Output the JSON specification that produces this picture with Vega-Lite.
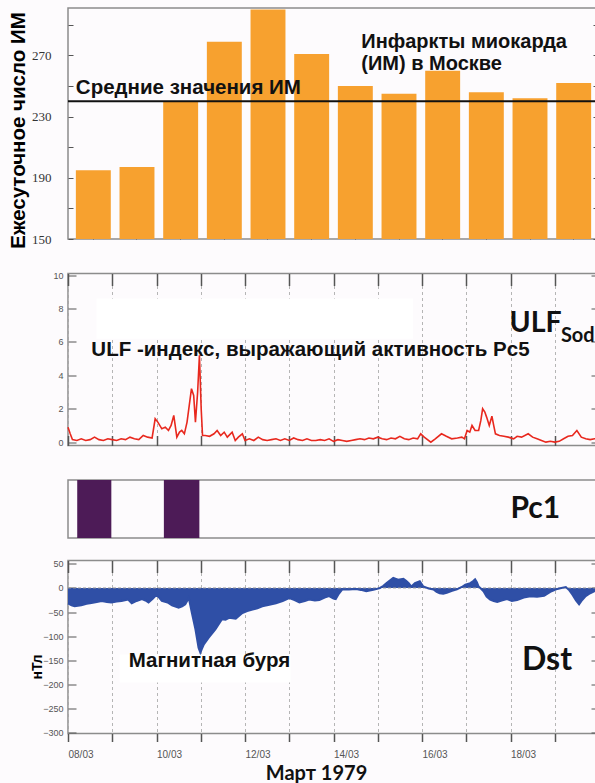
{
  "$schema": "https://vega.github.io/schema/vega-lite/v6.json",
  "background": "#fdfbfd",
  "padding": {"left": 7, "top": 7, "right": 0, "bottom": 0},
  "config": {
    "view": {"stroke": "#8c8c8c", "strokeWidth": 1.5},
    "axis": {
      "domain": false,
      "grid": false,
      "labelFont": "Liberation Sans",
      "labelColor": "#555555",
      "labelFontSize": 9,
      "tickColor": "#555555",
      "titleColor": "#000000",
      "titleFont": "Liberation Sans"
    }
  },
  "resolve": {"scale": {"x": "independent", "y": "independent"}},
  "datasets": {
    "mi": [
      {"day": "08/03", "count": 195},
      {"day": "09/03", "count": 197},
      {"day": "10/03", "count": 240},
      {"day": "11/03", "count": 279},
      {"day": "12/03", "count": 300},
      {"day": "13/03", "count": 271},
      {"day": "14/03", "count": 250},
      {"day": "15/03", "count": 245},
      {"day": "16/03", "count": 260},
      {"day": "17/03", "count": 246},
      {"day": "18/03", "count": 242},
      {"day": "19/03", "count": 252}
    ],
    "ulf": [
      {"t": "1979-03-08T00:00", "v": 0.9},
      {"t": "1979-03-08T01:12", "v": 0.5},
      {"t": "1979-03-08T02:24", "v": 0.15},
      {"t": "1979-03-08T04:48", "v": 0.1},
      {"t": "1979-03-08T07:12", "v": 0.2},
      {"t": "1979-03-08T09:36", "v": 0.1},
      {"t": "1979-03-08T12:00", "v": 0.15},
      {"t": "1979-03-08T14:24", "v": 0.3},
      {"t": "1979-03-08T16:48", "v": 0.15},
      {"t": "1979-03-08T19:12", "v": 0.1},
      {"t": "1979-03-08T21:36", "v": 0.2},
      {"t": "1979-03-09T00:00", "v": 0.15},
      {"t": "1979-03-09T02:24", "v": 0.1},
      {"t": "1979-03-09T04:48", "v": 0.2},
      {"t": "1979-03-09T07:12", "v": 0.15},
      {"t": "1979-03-09T09:36", "v": 0.3},
      {"t": "1979-03-09T12:00", "v": 0.2},
      {"t": "1979-03-09T14:24", "v": 0.15},
      {"t": "1979-03-09T16:48", "v": 0.4},
      {"t": "1979-03-09T19:12", "v": 0.3},
      {"t": "1979-03-09T21:36", "v": 0.25},
      {"t": "1979-03-09T23:17", "v": 1.4},
      {"t": "1979-03-10T00:43", "v": 1.2},
      {"t": "1979-03-10T02:53", "v": 0.8},
      {"t": "1979-03-10T04:48", "v": 0.9},
      {"t": "1979-03-10T06:29", "v": 0.7},
      {"t": "1979-03-10T07:55", "v": 1.0},
      {"t": "1979-03-10T09:22", "v": 1.6},
      {"t": "1979-03-10T11:02", "v": 0.3},
      {"t": "1979-03-10T12:29", "v": 0.6},
      {"t": "1979-03-10T13:41", "v": 0.7},
      {"t": "1979-03-10T15:07", "v": 0.5},
      {"t": "1979-03-10T16:34", "v": 1.2},
      {"t": "1979-03-10T17:46", "v": 2.2},
      {"t": "1979-03-10T18:58", "v": 3.2},
      {"t": "1979-03-10T20:10", "v": 2.8},
      {"t": "1979-03-10T21:07", "v": 1.2},
      {"t": "1979-03-10T22:19", "v": 3.0},
      {"t": "1979-03-10T23:17", "v": 5.2},
      {"t": "1979-03-11T00:14", "v": 2.0},
      {"t": "1979-03-11T00:58", "v": 0.4},
      {"t": "1979-03-11T02:24", "v": 0.4},
      {"t": "1979-03-11T04:48", "v": 0.35},
      {"t": "1979-03-11T07:12", "v": 0.5},
      {"t": "1979-03-11T08:53", "v": 0.7},
      {"t": "1979-03-11T10:48", "v": 0.4},
      {"t": "1979-03-11T12:43", "v": 0.6},
      {"t": "1979-03-11T14:24", "v": 0.3},
      {"t": "1979-03-11T17:02", "v": 0.6},
      {"t": "1979-03-11T18:43", "v": 0.1},
      {"t": "1979-03-11T20:24", "v": 0.3},
      {"t": "1979-03-11T22:34", "v": 0.5},
      {"t": "1979-03-12T00:00", "v": 0.1},
      {"t": "1979-03-12T02:24", "v": 0.2},
      {"t": "1979-03-12T04:48", "v": 0.1},
      {"t": "1979-03-12T07:12", "v": 0.3},
      {"t": "1979-03-12T09:36", "v": 0.15},
      {"t": "1979-03-12T12:00", "v": 0.1},
      {"t": "1979-03-12T14:24", "v": 0.15},
      {"t": "1979-03-12T16:48", "v": 0.2},
      {"t": "1979-03-12T19:12", "v": 0.1},
      {"t": "1979-03-12T21:36", "v": 0.2},
      {"t": "1979-03-13T00:00", "v": 0.1},
      {"t": "1979-03-13T02:24", "v": 0.25},
      {"t": "1979-03-13T04:48", "v": 0.15},
      {"t": "1979-03-13T07:12", "v": 0.1},
      {"t": "1979-03-13T09:36", "v": 0.2},
      {"t": "1979-03-13T12:00", "v": 0.1},
      {"t": "1979-03-13T14:24", "v": 0.1},
      {"t": "1979-03-13T16:48", "v": 0.15},
      {"t": "1979-03-13T19:12", "v": 0.1},
      {"t": "1979-03-13T21:36", "v": 0.2},
      {"t": "1979-03-14T00:00", "v": 0.05},
      {"t": "1979-03-14T02:24", "v": 0.15},
      {"t": "1979-03-14T04:48", "v": 0.1},
      {"t": "1979-03-14T07:12", "v": 0.05},
      {"t": "1979-03-14T09:36", "v": 0.1},
      {"t": "1979-03-14T12:00", "v": 0.15},
      {"t": "1979-03-14T14:24", "v": 0.2},
      {"t": "1979-03-14T16:48", "v": 0.15},
      {"t": "1979-03-14T19:12", "v": 0.25},
      {"t": "1979-03-14T21:36", "v": 0.2},
      {"t": "1979-03-15T00:00", "v": 0.3},
      {"t": "1979-03-15T02:24", "v": 0.2},
      {"t": "1979-03-15T04:48", "v": 0.15},
      {"t": "1979-03-15T07:12", "v": 0.25},
      {"t": "1979-03-15T09:36", "v": 0.2},
      {"t": "1979-03-15T12:00", "v": 0.35},
      {"t": "1979-03-15T14:24", "v": 0.2},
      {"t": "1979-03-15T16:48", "v": 0.15},
      {"t": "1979-03-15T19:12", "v": 0.25},
      {"t": "1979-03-15T21:36", "v": 0.2},
      {"t": "1979-03-15T23:17", "v": 0.5},
      {"t": "1979-03-16T01:12", "v": 0.3},
      {"t": "1979-03-16T04:48", "v": 0.0},
      {"t": "1979-03-16T07:12", "v": 0.2},
      {"t": "1979-03-16T10:34", "v": 0.5},
      {"t": "1979-03-16T13:12", "v": 0.35},
      {"t": "1979-03-16T16:05", "v": 0.2},
      {"t": "1979-03-16T19:12", "v": 0.25},
      {"t": "1979-03-16T21:36", "v": 0.3},
      {"t": "1979-03-16T23:02", "v": 0.2},
      {"t": "1979-03-17T00:29", "v": 0.7},
      {"t": "1979-03-17T01:55", "v": 0.6},
      {"t": "1979-03-17T03:07", "v": 1.0},
      {"t": "1979-03-17T04:48", "v": 0.7},
      {"t": "1979-03-17T06:43", "v": 0.7},
      {"t": "1979-03-17T07:55", "v": 1.3},
      {"t": "1979-03-17T08:53", "v": 2.0},
      {"t": "1979-03-17T10:05", "v": 1.8},
      {"t": "1979-03-17T11:02", "v": 1.5},
      {"t": "1979-03-17T12:29", "v": 1.0},
      {"t": "1979-03-17T13:55", "v": 1.55},
      {"t": "1979-03-17T14:53", "v": 1.0},
      {"t": "1979-03-17T15:50", "v": 0.5},
      {"t": "1979-03-17T18:00", "v": 0.4},
      {"t": "1979-03-17T20:24", "v": 0.35},
      {"t": "1979-03-17T22:48", "v": 0.3},
      {"t": "1979-03-18T01:41", "v": 0.2},
      {"t": "1979-03-18T03:36", "v": 0.35},
      {"t": "1979-03-18T06:00", "v": 0.3},
      {"t": "1979-03-18T09:36", "v": 0.5},
      {"t": "1979-03-18T12:00", "v": 0.3},
      {"t": "1979-03-18T14:24", "v": 0.2},
      {"t": "1979-03-18T16:48", "v": 0.1},
      {"t": "1979-03-18T19:12", "v": 0.0},
      {"t": "1979-03-18T21:36", "v": 0.05},
      {"t": "1979-03-19T00:00", "v": 0.0},
      {"t": "1979-03-19T02:24", "v": 0.05},
      {"t": "1979-03-19T04:48", "v": 0.2},
      {"t": "1979-03-19T07:12", "v": 0.35},
      {"t": "1979-03-19T09:36", "v": 0.4},
      {"t": "1979-03-19T12:00", "v": 0.7},
      {"t": "1979-03-19T14:24", "v": 0.3},
      {"t": "1979-03-19T16:48", "v": 0.2},
      {"t": "1979-03-19T19:12", "v": 0.15},
      {"t": "1979-03-19T21:36", "v": 0.2},
      {"t": "1979-03-20T00:00", "v": 0.2}
    ],
    "pc1": [
      {"start": "1979-03-08T05:00", "end": "1979-03-08T23:30"},
      {"start": "1979-03-10T04:00", "end": "1979-03-10T23:15"}
    ],
    "dst": [
      {"t": "1979-03-08T00:00", "v": -32},
      {"t": "1979-03-08T01:55", "v": -36},
      {"t": "1979-03-08T03:36", "v": -38},
      {"t": "1979-03-08T07:12", "v": -36},
      {"t": "1979-03-08T10:05", "v": -33},
      {"t": "1979-03-08T12:43", "v": -31},
      {"t": "1979-03-08T15:36", "v": -29},
      {"t": "1979-03-08T18:14", "v": -27},
      {"t": "1979-03-08T21:07", "v": -29},
      {"t": "1979-03-08T23:31", "v": -30},
      {"t": "1979-03-09T02:24", "v": -28},
      {"t": "1979-03-09T05:02", "v": -27},
      {"t": "1979-03-09T08:38", "v": -24},
      {"t": "1979-03-09T10:34", "v": -32},
      {"t": "1979-03-09T13:12", "v": -27},
      {"t": "1979-03-09T16:05", "v": -23},
      {"t": "1979-03-09T18:00", "v": -26},
      {"t": "1979-03-09T19:41", "v": -30},
      {"t": "1979-03-09T22:05", "v": -22},
      {"t": "1979-03-10T00:00", "v": -14},
      {"t": "1979-03-10T01:26", "v": -20},
      {"t": "1979-03-10T02:53", "v": -27},
      {"t": "1979-03-10T06:00", "v": -30},
      {"t": "1979-03-10T08:24", "v": -36},
      {"t": "1979-03-10T12:00", "v": -41},
      {"t": "1979-03-10T13:55", "v": -38},
      {"t": "1979-03-10T15:36", "v": -34},
      {"t": "1979-03-10T17:31", "v": -21},
      {"t": "1979-03-10T19:12", "v": -52},
      {"t": "1979-03-10T21:07", "v": -86},
      {"t": "1979-03-10T22:48", "v": -124},
      {"t": "1979-03-10T23:46", "v": -134},
      {"t": "1979-03-11T01:41", "v": -117},
      {"t": "1979-03-11T04:19", "v": -103},
      {"t": "1979-03-11T07:55", "v": -86},
      {"t": "1979-03-11T11:31", "v": -65},
      {"t": "1979-03-11T13:26", "v": -66},
      {"t": "1979-03-11T15:22", "v": -62},
      {"t": "1979-03-11T18:58", "v": -64},
      {"t": "1979-03-11T22:34", "v": -52},
      {"t": "1979-03-12T01:12", "v": -48},
      {"t": "1979-03-12T04:05", "v": -45},
      {"t": "1979-03-12T06:43", "v": -42},
      {"t": "1979-03-12T09:22", "v": -38},
      {"t": "1979-03-12T13:12", "v": -35},
      {"t": "1979-03-12T16:48", "v": -32},
      {"t": "1979-03-12T20:24", "v": -27},
      {"t": "1979-03-13T00:00", "v": -21},
      {"t": "1979-03-13T02:53", "v": -25},
      {"t": "1979-03-13T05:31", "v": -30},
      {"t": "1979-03-13T08:24", "v": -27},
      {"t": "1979-03-13T10:48", "v": -24},
      {"t": "1979-03-13T13:55", "v": -26},
      {"t": "1979-03-13T16:19", "v": -25},
      {"t": "1979-03-13T19:12", "v": -20},
      {"t": "1979-03-13T21:36", "v": -17},
      {"t": "1979-03-14T00:00", "v": -22},
      {"t": "1979-03-14T01:12", "v": -23},
      {"t": "1979-03-14T02:53", "v": -12},
      {"t": "1979-03-14T04:48", "v": -3},
      {"t": "1979-03-14T08:24", "v": -3},
      {"t": "1979-03-14T12:14", "v": -2},
      {"t": "1979-03-14T14:53", "v": -4},
      {"t": "1979-03-14T17:46", "v": -7},
      {"t": "1979-03-14T21:36", "v": -4},
      {"t": "1979-03-15T01:12", "v": 0},
      {"t": "1979-03-15T02:53", "v": 4},
      {"t": "1979-03-15T04:48", "v": 10},
      {"t": "1979-03-15T06:43", "v": 16},
      {"t": "1979-03-15T08:24", "v": 21},
      {"t": "1979-03-15T11:02", "v": 17},
      {"t": "1979-03-15T13:55", "v": 19},
      {"t": "1979-03-15T15:22", "v": 15},
      {"t": "1979-03-15T16:48", "v": 10},
      {"t": "1979-03-15T18:14", "v": 3},
      {"t": "1979-03-15T20:10", "v": 10},
      {"t": "1979-03-15T22:48", "v": 14},
      {"t": "1979-03-16T00:43", "v": 3},
      {"t": "1979-03-16T03:36", "v": -1},
      {"t": "1979-03-16T06:14", "v": -3},
      {"t": "1979-03-16T07:55", "v": -8},
      {"t": "1979-03-16T09:36", "v": -11},
      {"t": "1979-03-16T11:31", "v": -12},
      {"t": "1979-03-16T13:26", "v": -10},
      {"t": "1979-03-16T16:19", "v": -6},
      {"t": "1979-03-16T18:58", "v": -3},
      {"t": "1979-03-16T21:36", "v": 2},
      {"t": "1979-03-16T23:31", "v": 7},
      {"t": "1979-03-17T02:10", "v": 10},
      {"t": "1979-03-17T03:36", "v": 14},
      {"t": "1979-03-17T04:48", "v": 18},
      {"t": "1979-03-17T05:46", "v": 12},
      {"t": "1979-03-17T06:43", "v": 3},
      {"t": "1979-03-17T07:55", "v": -1},
      {"t": "1979-03-17T09:22", "v": -7},
      {"t": "1979-03-17T11:02", "v": -18},
      {"t": "1979-03-17T12:58", "v": -24},
      {"t": "1979-03-17T14:53", "v": -27},
      {"t": "1979-03-17T16:48", "v": -29},
      {"t": "1979-03-17T19:12", "v": -26},
      {"t": "1979-03-17T22:05", "v": -23},
      {"t": "1979-03-18T00:43", "v": -27},
      {"t": "1979-03-18T03:36", "v": -25},
      {"t": "1979-03-18T07:12", "v": -20},
      {"t": "1979-03-18T10:48", "v": -17},
      {"t": "1979-03-18T14:24", "v": -18},
      {"t": "1979-03-18T18:14", "v": -16},
      {"t": "1979-03-18T21:36", "v": -8},
      {"t": "1979-03-19T01:26", "v": -2},
      {"t": "1979-03-19T03:36", "v": 0},
      {"t": "1979-03-19T06:00", "v": 2},
      {"t": "1979-03-19T07:55", "v": -5},
      {"t": "1979-03-19T09:36", "v": -14},
      {"t": "1979-03-19T11:31", "v": -26},
      {"t": "1979-03-19T13:12", "v": -34},
      {"t": "1979-03-19T14:53", "v": -25},
      {"t": "1979-03-19T16:48", "v": -17},
      {"t": "1979-03-19T19:12", "v": -11},
      {"t": "1979-03-19T21:22", "v": -7},
      {"t": "1979-03-20T00:00", "v": -3}
    ]
  },
  "spacing": 34.5,
  "bounds": "flush",
  "vconcat": [
    {
      "width": 531,
      "height": 231,
      "resolve": {"axis": {"y": "independent"}},
      "layer": [
        {
          "data": {"name": "mi"},
          "mark": {"type": "bar", "color": "#f7a12f", "clip": true},
          "encoding": {
            "x": {
              "field": "day",
              "type": "ordinal",
              "sort": null,
              "scale": {"paddingInner": 0.2, "paddingOuter": 0.18},
              "axis": {"orient": "bottom", "labels": false, "title": null, "tickSize": -4}
            },
            "y": {
              "field": "count",
              "type": "quantitative",
              "scale": {"domain": [150, 301], "nice": false, "zero": false},
              "axis": {
                "orient": "left",
                "values": [150, 170, 190, 210, 230, 250, 270, 290],
                "labelExpr": "datum.value % 40 == 30 ? datum.label : ''",
                "labelFont": "Liberation Serif",
                "labelFontSize": 13,
                "labelColor": "#333333",
                "tickSize": -5,
                "labelPadding": 22,
                "title": "Ежесуточное число ИМ",
                "titleFontSize": 20.5,
                "titleFontWeight": "bold",
                "titleAngle": 270,
                "titleAlign": "center",
                "titleBaseline": "middle",
                "titleX": -50,
                "titleY": 122
              }
            }
          }
        },
        {
          "data": {"values": [{"mean": 240}]},
          "mark": {"type": "rule", "color": "#111111", "strokeWidth": 2},
          "encoding": {
            "y": {
              "field": "mean",
              "type": "quantitative",
              "axis": {
                "orient": "right",
                "values": [150, 170, 190, 210, 230, 250, 270, 290],
                "labels": false,
                "tickSize": -6,
                "title": null
              }
            }
          }
        },
        {
          "data": {"values": [{"label": "Средние значения ИМ"}]},
          "mark": {"type": "text", "font": "Liberation Sans", "fontWeight": "bold", "fontSize": 20.5, "align": "left", "baseline": "middle", "color": "#111111"},
          "encoding": {
            "x": {"datum": "08/03", "type": "ordinal", "bandPosition": 0},
            "y": {"datum": 249, "type": "quantitative", "axis": null},
            "text": {"field": "label"}
          }
        },
        {
          "data": {"values": [{"label": ["Инфаркты миокарда", "(ИМ) в Москве"]}]},
          "mark": {"type": "text", "font": "Liberation Sans", "fontWeight": "bold", "fontSize": 20, "lineHeight": 22, "align": "left", "baseline": "middle", "color": "#111111"},
          "encoding": {
            "x": {"datum": "14/03", "type": "ordinal", "bandPosition": 0.67},
            "y": {"datum": 279, "type": "quantitative", "axis": null},
            "text": {"field": "label"}
          }
        }
      ]
    },
    {
      "width": 531,
      "height": 172,
      "resolve": {"axis": {"x": "independent", "y": "independent"}},
      "layer": [
        {
          "data": {"name": "ulf"},
          "mark": {"type": "line", "color": "#e8281e", "strokeWidth": 1.6},
          "encoding": {
            "x": {
              "field": "t",
              "type": "temporal",
              "scale": {"domain": [{"year": 1979, "month": 3, "date": 8}, {"year": 1979, "month": 3, "date": 20}]},
              "axis": {
                "orient": "bottom",
                "values": [
                  {"year": 1979, "month": 3, "date": 8}, {"year": 1979, "month": 3, "date": 9}, {"year": 1979, "month": 3, "date": 10},
                  {"year": 1979, "month": 3, "date": 11}, {"year": 1979, "month": 3, "date": 12}, {"year": 1979, "month": 3, "date": 13},
                  {"year": 1979, "month": 3, "date": 14}, {"year": 1979, "month": 3, "date": 15}, {"year": 1979, "month": 3, "date": 16},
                  {"year": 1979, "month": 3, "date": 17}, {"year": 1979, "month": 3, "date": 18}, {"year": 1979, "month": 3, "date": 19}
                ],
                "labels": false,
                "title": null,
                "tickSize": -10,
                "tickWidth": 1.5,
                "grid": true,
                "gridColor": "#b5b5b5",
                "gridDash": [3, 3]
              }
            },
            "y": {
              "field": "v",
              "type": "quantitative",
              "scale": {"domain": [-0.2, 10.1], "nice": false, "zero": false},
              "axis": {"orient": "left", "values": [0, 2, 4, 6, 8, 10], "tickSize": -8, "labelPadding": 13, "title": null}
            }
          }
        },
        {
          "data": {"values": [{"box": "caption"}]},
          "mark": {"type": "rect", "color": "#ffffff"},
          "encoding": {
            "x": {
              "datum": {"year": 1979, "month": 3, "date": 8, "hours": 15, "minutes": 25},
              "type": "temporal",
              "axis": {
                "orient": "top",
                "values": [
                  {"year": 1979, "month": 3, "date": 8}, {"year": 1979, "month": 3, "date": 9}, {"year": 1979, "month": 3, "date": 10},
                  {"year": 1979, "month": 3, "date": 11}, {"year": 1979, "month": 3, "date": 12}, {"year": 1979, "month": 3, "date": 13},
                  {"year": 1979, "month": 3, "date": 14}, {"year": 1979, "month": 3, "date": 15}, {"year": 1979, "month": 3, "date": 16},
                  {"year": 1979, "month": 3, "date": 17}, {"year": 1979, "month": 3, "date": 18}, {"year": 1979, "month": 3, "date": 19}
                ],
                "labels": false,
                "title": null,
                "tickSize": -12,
                "tickWidth": 1.5
              }
            },
            "x2": {"datum": {"year": 1979, "month": 3, "date": 15, "hours": 19, "minutes": 10}},
            "y": {
              "datum": 8.6,
              "type": "quantitative",
              "axis": {"orient": "right", "values": [0, 2, 4, 6, 8, 10], "labels": false, "tickSize": -8, "title": null}
            },
            "y2": {"datum": 6.2}
          }
        },
        {
          "data": {"values": [{"label": "ULF -индекс, выражающий активность Pc5"}]},
          "mark": {"type": "text", "font": "Liberation Sans", "fontWeight": "bold", "fontSize": 20.5, "align": "left", "baseline": "middle", "color": "#111111"},
          "encoding": {
            "x": {"datum": {"year": 1979, "month": 3, "date": 8, "hours": 12, "minutes": 40}, "type": "temporal", "axis": null},
            "y": {"datum": 5.5, "type": "quantitative", "axis": null},
            "text": {"field": "label"}
          }
        },
        {
          "data": {"values": [{"label": "ULF"}]},
          "mark": {"type": "text", "font": "Lato", "fontWeight": "bold", "fontSize": 28.5, "align": "left", "baseline": "alphabetic", "color": "#111111"},
          "encoding": {
            "x": {"datum": {"year": 1979, "month": 3, "date": 17, "hours": 23, "minutes": 30}, "type": "temporal", "axis": null},
            "y": {"datum": 6.6, "type": "quantitative", "axis": null},
            "text": {"field": "label"}
          }
        },
        {
          "data": {"values": [{"label": "Sod"}]},
          "mark": {"type": "text", "font": "Lato", "fontWeight": "bold", "fontSize": 20, "align": "left", "baseline": "alphabetic", "color": "#111111"},
          "encoding": {
            "x": {"datum": {"year": 1979, "month": 3, "date": 19, "hours": 3, "minutes": 20}, "type": "temporal", "axis": null},
            "y": {"datum": 6.0, "type": "quantitative", "axis": null},
            "text": {"field": "label"}
          }
        }
      ]
    },
    {
      "spacing": 22.5,
      "bounds": "flush",
      "resolve": {"scale": {"x": "independent", "y": "independent"}},
      "vconcat": [
        {
          "width": 531,
          "height": 58,
          "layer": [
            {
              "data": {"name": "pc1"},
              "mark": {"type": "rect", "color": "#4d1b57"},
              "encoding": {
                "x": {
                  "field": "start",
                  "type": "temporal",
                  "scale": {"domain": [{"year": 1979, "month": 3, "date": 8}, {"year": 1979, "month": 3, "date": 20}]},
                  "axis": {
                    "orient": "bottom",
                    "values": [
                      {"year": 1979, "month": 3, "date": 9, "hours": 12}, {"year": 1979, "month": 3, "date": 10, "hours": 12},
                      {"year": 1979, "month": 3, "date": 11, "hours": 12}, {"year": 1979, "month": 3, "date": 12, "hours": 12},
                      {"year": 1979, "month": 3, "date": 13, "hours": 12}, {"year": 1979, "month": 3, "date": 14, "hours": 12},
                      {"year": 1979, "month": 3, "date": 15, "hours": 12}, {"year": 1979, "month": 3, "date": 16, "hours": 12},
                      {"year": 1979, "month": 3, "date": 17, "hours": 12}, {"year": 1979, "month": 3, "date": 18, "hours": 12},
                      {"year": 1979, "month": 3, "date": 19, "hours": 12}
                    ],
                    "labels": false,
                    "title": null,
                    "tickSize": -3
                  }
                },
                "x2": {"field": "end"},
                "y": {
                  "datum": 0,
                  "type": "quantitative",
                  "scale": {"domain": [0, 6], "nice": false},
                  "axis": {"orient": "left", "values": [0, 1, 2, 3, 4, 5, 6], "labels": false, "tickSize": -7, "title": null}
                },
                "y2": {"datum": 6}
              }
            },
            {
              "data": {"values": [{"label": "Pc1"}]},
              "mark": {"type": "text", "font": "Lato", "fontWeight": "bold", "fontSize": 30, "align": "left", "baseline": "middle", "color": "#111111"},
              "encoding": {
                "x": {"datum": {"year": 1979, "month": 3, "date": 18, "hours": 0}, "type": "temporal", "axis": null},
                "y": {"datum": 3, "type": "quantitative", "axis": null},
                "text": {"field": "label"}
              }
            }
          ]
        },
        {
          "width": 531,
          "height": 173,
          "resolve": {"axis": {"x": "independent", "y": "independent"}},
          "layer": [
            {
              "data": {"name": "dst"},
              "mark": {"type": "area", "color": "#2f4fa6", "opacity": 1},
              "encoding": {
                "x": {
                  "field": "t",
                  "type": "temporal",
                  "scale": {"domain": [{"year": 1979, "month": 3, "date": 8}, {"year": 1979, "month": 3, "date": 20}]},
                  "axis": {
                    "orient": "bottom",
                    "values": [
                      {"year": 1979, "month": 3, "date": 8}, {"year": 1979, "month": 3, "date": 9}, {"year": 1979, "month": 3, "date": 10},
                      {"year": 1979, "month": 3, "date": 11}, {"year": 1979, "month": 3, "date": 12}, {"year": 1979, "month": 3, "date": 13},
                      {"year": 1979, "month": 3, "date": 14}, {"year": 1979, "month": 3, "date": 15}, {"year": 1979, "month": 3, "date": 16},
                      {"year": 1979, "month": 3, "date": 17}, {"year": 1979, "month": 3, "date": 18}, {"year": 1979, "month": 3, "date": 19}
                    ],
                    "labelExpr": "date(datum.value) % 2 == 0 ? timeFormat(datum.value, '%d/%m') : ''",
                    "labelAlign": "left",
                    "labelFontSize": 10,
                    "labelPadding": 8,
                    "tickSize": 8,
                    "tickWidth": 1.5,
                    "grid": true,
                    "gridColor": "#b5b5b5",
                    "gridDash": [3, 3],
                    "title": "Март 1979",
                    "titleFont": "Lato",
                    "titleFontSize": 20,
                    "titleFontWeight": "bold",
                    "titleColor": "#111111",
                    "titleAlign": "center",
                    "titleBaseline": "middle",
                    "titleX": 248,
                    "titleY": 40
                  }
                },
                "y": {
                  "field": "v",
                  "type": "quantitative",
                  "scale": {"domain": [-302, 57], "nice": false, "zero": false},
                  "axis": {
                    "orient": "left",
                    "values": [-300, -250, -200, -150, -100, -50, 0, 50],
                    "tickSize": -8,
                    "labelPadding": 13,
                    "title": "нТл",
                    "titleFontSize": 14,
                    "titleFontWeight": "bold",
                    "titleAngle": 270,
                    "titleAlign": "center",
                    "titleBaseline": "middle",
                    "titleX": -31,
                    "titleY": 106
                  }
                },
                "y2": {"datum": 0}
              }
            },
            {
              "data": {"values": [{"zero": 0}]},
              "mark": {"type": "rule", "color": "#9a9a9a", "strokeDash": [3, 2], "strokeWidth": 1},
              "encoding": {
                "x": {
                  "datum": {"year": 1979, "month": 3, "date": 8},
                  "type": "temporal",
                  "axis": {
                    "orient": "top",
                    "values": [
                      {"year": 1979, "month": 3, "date": 8}, {"year": 1979, "month": 3, "date": 9}, {"year": 1979, "month": 3, "date": 10},
                      {"year": 1979, "month": 3, "date": 11}, {"year": 1979, "month": 3, "date": 12}, {"year": 1979, "month": 3, "date": 13},
                      {"year": 1979, "month": 3, "date": 14}, {"year": 1979, "month": 3, "date": 15}, {"year": 1979, "month": 3, "date": 16},
                      {"year": 1979, "month": 3, "date": 17}, {"year": 1979, "month": 3, "date": 18}, {"year": 1979, "month": 3, "date": 19}
                    ],
                    "labels": false,
                    "title": null,
                    "tickSize": -12,
                    "tickWidth": 1.5
                  }
                },
                "x2": {"datum": {"year": 1979, "month": 3, "date": 20}},
                "y": {
                  "field": "zero",
                  "type": "quantitative",
                  "axis": {"orient": "right", "values": [-300, -250, -200, -150, -100, -50, 0, 50], "labels": false, "tickSize": -8, "title": null}
                }
              }
            },
            {
              "data": {"values": [{"box": "caption"}]},
              "mark": {"type": "rect", "color": "#ffffff"},
              "encoding": {
                "x": {"datum": {"year": 1979, "month": 3, "date": 9, "hours": 4}, "type": "temporal", "axis": null},
                "x2": {"datum": {"year": 1979, "month": 3, "date": 13, "hours": 0, "minutes": 45}},
                "y": {"datum": -138, "type": "quantitative", "axis": null},
                "y2": {"datum": -196}
              }
            },
            {
              "data": {"name": "dst"},
              "mark": {"type": "line", "color": "#2f4fa6", "strokeWidth": 2},
              "encoding": {
                "x": {"field": "t", "type": "temporal", "axis": null},
                "y": {"field": "v", "type": "quantitative", "axis": null}
              }
            },
            {
              "data": {"values": [{"label": "Dst"}]},
              "mark": {"type": "text", "font": "Lato", "fontWeight": "bold", "fontSize": 32, "align": "left", "baseline": "middle", "color": "#111111"},
              "encoding": {
                "x": {"datum": {"year": 1979, "month": 3, "date": 18, "hours": 6, "minutes": 15}, "type": "temporal", "axis": null},
                "y": {"datum": -149, "type": "quantitative", "axis": null},
                "text": {"field": "label"}
              }
            },
            {
              "data": {"values": [{"label": "Магнитная буря"}]},
              "mark": {"type": "text", "font": "Liberation Sans", "fontWeight": "bold", "fontSize": 20.5, "align": "left", "baseline": "middle", "color": "#111111"},
              "encoding": {
                "x": {"datum": {"year": 1979, "month": 3, "date": 9, "hours": 8, "minutes": 55}, "type": "temporal", "axis": null},
                "y": {"datum": -151, "type": "quantitative", "axis": null},
                "text": {"field": "label"}
              }
            }
          ]
        }
      ]
    }
  ]
}
